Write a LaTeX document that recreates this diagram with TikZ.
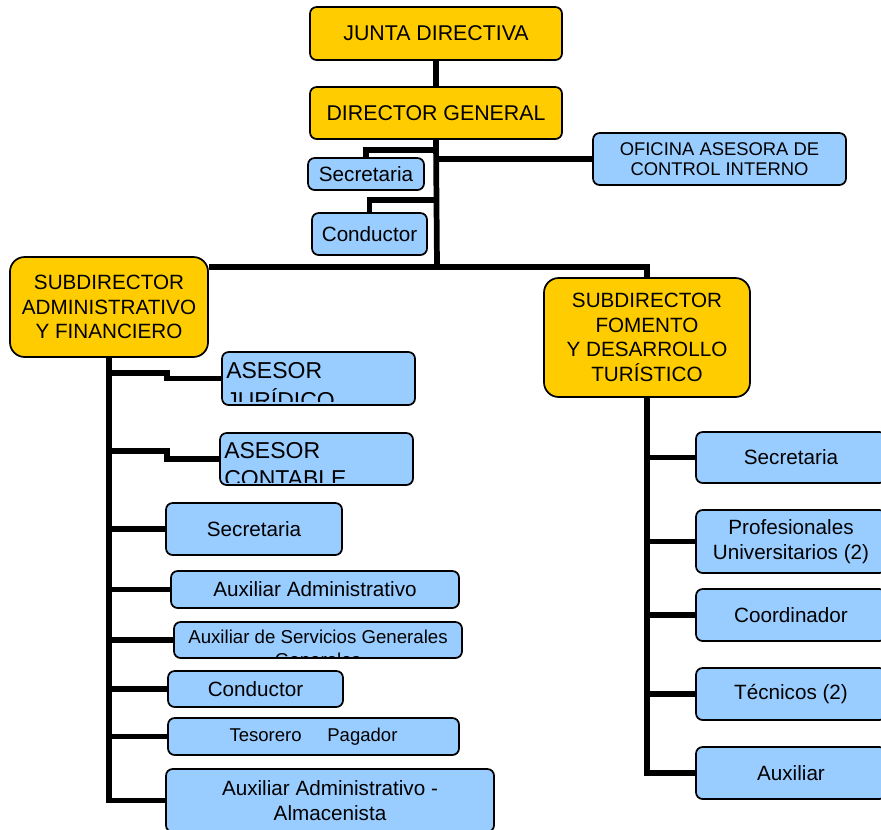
\documentclass[tikz,border=0pt]{standalone}
\usepackage{fontspec}
\setmainfont{Liberation Sans}
\definecolor{yel}{HTML}{FFCC00}
\definecolor{blu}{HTML}{99CCFF}
\begin{document}
\begin{tikzpicture}[x=0.75pt,y=-0.75pt,
  sz/.style 2 args={minimum width=#1*0.75pt, minimum height=#2*0.75pt},
  box/.style={draw=black, line width=1.3pt, rounded corners=5pt, inner sep=0pt, align=center,
              font=\fontsize{15.5}{18.5}\selectfont},
  ybox/.style={box, fill=yel},
  bbox/.style={box, fill=blu},
  conn/.style={line width=4.3pt, line join=miter},
  big/.style={font=\fontsize{17.25}{19.5}\selectfont, inner sep=0pt},
  small/.style={font=\fontsize{14}{16.5}\selectfont, inner sep=0pt}]
\useasboundingbox (0,0) rectangle (881,829);

% top level
\node[ybox, sz={252}{53}, font=\fontsize{16}{19}\selectfont] (jd) at (436,33.5) {JUNTA DIRECTIVA};
\node[ybox, sz={252}{52}, font=\fontsize{16}{19}\selectfont] (dg) at (436,113) {DIRECTOR GENERAL};
\node[bbox, sz={116}{32}] (sec1) at (366,174) {Secretaria};
\node[bbox, sz={115}{42}] (con1) at (369.5,234) {Conductor};
\node[bbox, sz={253}{52}, font=\fontsize{13.8}{15}\selectfont] (of) at (719.5,159) {OFICINA ASESORA DE\\CONTROL INTERNO};

% subdirectors
\node[ybox, sz={198}{100}, rounded corners=11pt] (sa) at (109,307) {SUBDIRECTOR\\ADMINISTRATIVO\\Y FINANCIERO};
\node[ybox, sz={206}{119}, rounded corners=11pt] (fo) at (647,337.5) {SUBDIRECTOR\\FOMENTO\\Y DESARROLLO\\TUR\'ISTICO};

% right children
\node[bbox, sz={190}{51}] (rs) at (791,457.5) {Secretaria};
\node[bbox, sz={190}{63}] (rp) at (791,541.5) {Profesionales\\Universitarios (2)};
\node[bbox, sz={190}{52}] (rc) at (791,615) {Coordinador};
\node[bbox, sz={190}{52}] (rt) at (791,694) {T\'ecnicos (2)};
\node[bbox, sz={190}{52}] (ra) at (791,773) {Auxiliar};

% left children
\node[bbox, sz={193}{53}] (jur) at (318.5,378.5) {};
\begin{scope}
  \clip (223,353) rectangle (414,401.5);
  \node[big, anchor=base west] (jurt) at (226,378.5) {ASESOR};
  \node[big, anchor=base west] (jurt2) at (226,408) {JUR\'IDICO};
\end{scope}
\node[bbox, sz={193}{52}] (cont) at (316.5,459) {};
\begin{scope}
  \clip (221,434) rectangle (412,482);
  \node[big, anchor=base west] (contt) at (224,458) {ASESOR};
  \node[big, anchor=base west] (contt2) at (224,486) {CONTABLE};
\end{scope}
\node[bbox, sz={176}{52}] (ls) at (254,529) {Secretaria};
\node[bbox, sz={288}{37}] (laa) at (315,589.5) {Auxiliar Administrativo};
\node[bbox, sz={288}{36}] (lsg) at (318,640) {};
\begin{scope}
  \clip (175,623) rectangle (461,656);
  \node[small, anchor=base] (lsgt) at (318,643.5) {Auxiliar de Servicios Generales};
  \node[small, anchor=base] (lsgt2) at (318,666) {Generales};
\end{scope}
\node[bbox, sz={175}{36}] (lc) at (255.5,689) {Conductor};
\node[bbox, sz={291}{37}, font=\fontsize{13.9}{16}\selectfont] (lt) at (313.5,736.5) {Tesorero\ \ \ \ \ Pagador};
\node[bbox, sz={328}{63}] (alm) at (330,800.5) {Auxiliar Administrativo -\\Almacenista};

% junction coordinates
\coordinate (j1) at (437,267);
\coordinate (jSec) at (437,150);
\coordinate (jCon) at (437,200);
\coordinate (kj) at (167,373);
\coordinate (kc) at (167,451);

% connectors
\draw[conn] (jd.south) -- (dg.north);
\draw[conn] (dg.south) -- (j1);
\draw[conn] (jSec) -| (sec1.north);
\draw[conn] (jCon) -| (con1.north);
\draw[conn] (of.west) -- (of.west -| dg.south);
\draw[conn] (sa.east |- j1) -- (j1) -- (fo.north |- j1) -- (fo.north);

\draw[conn] (fo.south) -- (fo.south |- ra.west) -- (ra.west);
\foreach \n in {rs,rp,rc,rt}{\draw[conn] (\n.west) -- (\n.west -| fo.south);}

\draw[conn] (sa.south) -- (sa.south |- alm.west) -- (alm.west);
\foreach \n in {ls,laa,lsg,lc,lt}{\draw[conn] (\n.west) -- (\n.west -| sa.south);}
\draw[conn] (jur.west) -- (jur.west -| kj) -- (kj) -- (kj -| sa.south);
\draw[conn] (cont.west) -- (cont.west -| kc) -- (kc) -- (kc -| sa.south);
\end{tikzpicture}
\end{document}
